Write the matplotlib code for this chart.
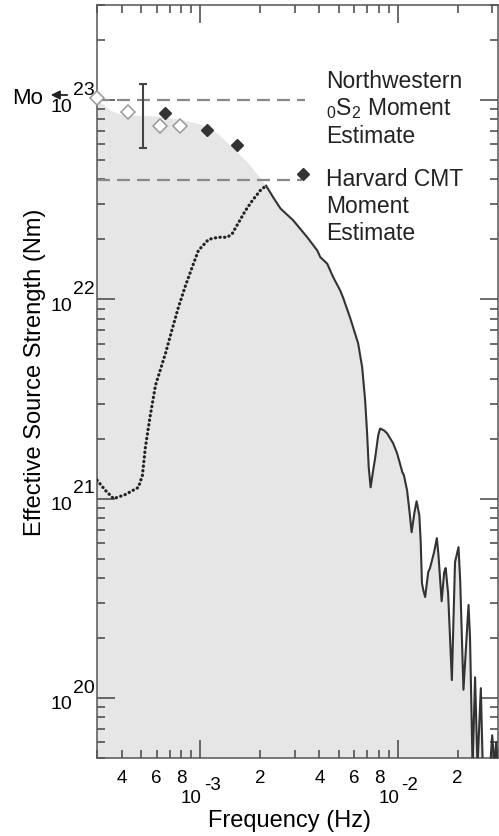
import numpy as np
import matplotlib
matplotlib.use('Agg')
import matplotlib.pyplot as plt
from matplotlib.ticker import LogLocator, NullFormatter

plt.rcParams['font.family'] = ['Liberation Sans', 'DejaVu Sans']
plt.rcParams['mathtext.fontset'] = 'custom'
plt.rcParams['mathtext.rm'] = 'Liberation Sans'

# low-frequency part of the spectrum (dotted)
dotted_f = [3.0e-4, 3.31e-4, 3.64e-4, 4.18e-4, 4.86e-4, 5.09e-4, 5.27e-4, 5.58e-4,
            5.93e-4, 6.66e-4, 7.22e-4, 7.74e-4, 8.40e-4, 9.11e-4, 9.77e-4, 1.10e-3,
            1.23e-3, 1.37e-3, 1.45e-3, 1.56e-3, 1.69e-3, 1.83e-3, 2.01e-3, 2.15e-3]
dotted_m = [1.24e21, 1.10e21, 1.00e21, 1.05e21, 1.14e21, 1.31e21, 1.81e21, 2.62e21,
            3.71e21, 5.36e21, 7.16e21, 9.12e21, 1.17e22, 1.46e22, 1.76e22, 2.00e22,
            2.05e22, 2.05e22, 2.14e22, 2.43e22, 2.79e22, 3.13e22, 3.52e22, 3.72e22]

# high-frequency part of the spectrum (solid)
solid_f = [2.15e-3, 2.34e-3, 2.54e-3, 2.95e-3, 3.47e-3, 3.90e-3, 4.04e-3, 4.38e-3,
           4.70e-3, 5.09e-3, 5.27e-3, 5.73e-3, 6.28e-3, 6.58e-3, 6.81e-3, 6.97e-3,
           7.10e-3, 7.26e-3, 7.48e-3, 7.66e-3, 7.93e-3, 8.11e-3, 8.49e-3, 8.79e-3,
           9.43e-3, 9.88e-3, 1.02e-2, 1.05e-2, 1.07e-2, 1.11e-2, 1.14e-2, 1.17e-2,
           1.21e-2, 1.24e-2, 1.28e-2, 1.30e-2, 1.32e-2, 1.34e-2, 1.37e-2, 1.42e-2,
           1.45e-2, 1.52e-2, 1.57e-2, 1.60e-2, 1.66e-2, 1.71e-2, 1.74e-2, 1.79e-2,
           1.87e-2, 1.94e-2, 2.02e-2, 2.06e-2, 2.14e-2, 2.27e-2, 2.31e-2, 2.38e-2,
           2.45e-2, 2.52e-2, 2.62e-2, 2.68e-2, 2.92e-2, 2.99e-2, 3.08e-2, 3.13e-2, 3.2e-2]
solid_m = [3.72e22, 3.24e22, 2.86e22, 2.49e22, 2.05e22, 1.76e22, 1.63e22, 1.51e22,
           1.29e22, 1.11e22, 1.02e22, 8.04e21, 6.01e21, 4.56e21, 3.12e21, 2.13e21,
           1.44e21, 1.14e21, 1.39e21, 1.61e21, 2.08e21, 2.25e21, 2.20e21, 2.13e21,
           1.90e21, 1.69e21, 1.51e21, 1.36e21, 1.31e21, 1.10e21, 8.75e20, 6.79e20,
           8.55e20, 9.71e20, 8.26e20, 6.19e20, 3.77e20, 3.48e20, 3.21e20, 4.28e20,
           4.49e20, 5.39e20, 6.34e20, 5.20e20, 3.06e20, 4.28e20, 4.49e20, 3.35e20,
           1.23e20, 4.81e20, 5.71e20, 3.91e20, 1.10e20, 2.93e20, 2.02e20, 4.5e19,
           1.27e20, 4.5e19, 1.12e20, 4.5e19, 4.5e19, 6.5e19, 4.5e19, 6.0e19, 4.5e19]

# upper envelope of the shaded region before it meets the spectrum
env_f = [3.0e-4, 3.24e-4, 3.51e-4, 3.94e-4, 4.70e-4, 6.07e-4, 7.92e-4, 1.0e-3,
         1.22e-3, 1.47e-3, 1.75e-3, 1.96e-3]
env_m = [9.94e22, 9.49e22, 8.86e22, 8.45e22, 8.36e22, 8.26e22, 7.98e22, 7.54e22,
         6.79e22, 5.71e22, 4.81e22, 4.19e22]

open_f = [3.0e-4, 4.28e-4, 6.28e-4, 7.92e-4]
open_m = [1.03e23, 8.75e22, 7.45e22, 7.45e22]
solid_d_f = [6.66e-4, 1.08e-3, 1.54e-3, 3.31e-3]
solid_d_m = [8.65e22, 7.11e22, 5.98e22, 4.28e22]

err_f = 5.15e-4
err_lo, err_hi = 5.78e22, 1.20e23

nw_moment, nw_end = 1.0e23, 3.39e-3
cmt_moment, cmt_end = 3.95e22, 3.25e-3

x_minor_pos = [4e-4, 6e-4, 8e-4, 2e-3, 4e-3, 6e-3, 8e-3, 2e-2]
x_minor_txt = ['4', '6', '8', '2', '4', '6', '8', '2']
x_major_pos = [1e-3, 1e-2]
x_major_exp = ['-3', '-2']
y_major_pos = [1e20, 1e21, 1e22, 1e23]
y_major_exp = ['20', '21', '22', '23']

W, H = 499, 836
fig = plt.figure(figsize=(W / 100, H / 100), dpi=100)
ax = fig.add_axes([97 / W, 1 - 758 / H, 401 / W, 753 / H])
ax.set_xscale('log')
ax.set_yscale('log')
ax.set_xlim(3.0e-4, 3.2e-2)
ax.set_ylim(5e19, 3e23)

# shaded area under envelope + spectrum
poly_f = env_f + solid_f
poly_m = env_m + solid_m
ax.fill_between(poly_f, poly_m, 1e18, color='#e6e6e6', lw=0, zorder=0)

ax.plot(dotted_f, dotted_m, color='#222222', lw=2.3, ls=(0, (0.1, 1.35)),
        dash_capstyle='round', zorder=3)
ax.plot(solid_f, solid_m, color='#333333', lw=1.5, zorder=3)

ax.plot([3.0e-4, nw_end], [nw_moment, nw_moment], color='#888888', lw=1.6,
        ls=(0, (5.8, 3.2)), zorder=2)
ax.plot([3.0e-4, cmt_end], [cmt_moment, cmt_moment], color='#888888', lw=1.6,
        ls=(0, (5.8, 3.2)), zorder=2)

ax.errorbar([err_f], [err_lo], yerr=[[0], [err_hi - err_lo]], fmt='none',
            ecolor='#444444', elinewidth=1.5, capsize=3, capthick=1.5, zorder=4)

ax.plot(open_f, open_m, 'D', ms=7.5, mfc='white', mec='#999999', mew=1.1,
        ls='none', clip_on=False, zorder=5)
ax.plot(solid_d_f, solid_d_m, 'D', ms=6.3, mfc='#333333', mec='#333333',
        ls='none', zorder=5)

# axes styling
for s in ax.spines.values():
    s.set_color('#555555')
    s.set_linewidth(1.1)
ax.xaxis.set_minor_locator(LogLocator(base=10, subs=np.arange(2, 10), numticks=20))
ax.yaxis.set_minor_locator(LogLocator(base=10, subs=np.arange(2, 10), numticks=20))
ax.xaxis.set_minor_formatter(NullFormatter())
ax.yaxis.set_minor_formatter(NullFormatter())
ax.tick_params(which='both', direction='in', top=True, right=True, color='#444444',
               labelbottom=False, labelleft=False)
ax.tick_params(which='major', length=13, width=1.1)
ax.tick_params(which='minor', length=6, width=1.1)

fs_tick = 13.5
for f, t in zip(x_minor_pos, x_minor_txt):
    ax.annotate(t, xy=(f, 0), xycoords=('data', 'axes fraction'), xytext=(0, -15),
                textcoords='offset points', ha='center', va='center', fontsize=fs_tick)
for f, e in zip(x_major_pos, x_major_exp):
    ax.annotate('10', xy=(f, 0), xycoords=('data', 'axes fraction'), xytext=(1, -29.5),
                textcoords='offset points', ha='right', va='center', fontsize=fs_tick)
    ax.annotate(e, xy=(f, 0), xycoords=('data', 'axes fraction'), xytext=(2.5, -19.5),
                textcoords='offset points', ha='left', va='center', fontsize=fs_tick)
for m, e in zip(y_major_pos, y_major_exp):
    ax.annotate('10', xy=(0, m), xycoords=('axes fraction', 'data'), xytext=(-17.5, -5),
                textcoords='offset points', ha='right', va='center', fontsize=14)
    ax.annotate(e, xy=(0, m), xycoords=('axes fraction', 'data'), xytext=(-17.5, 7),
                textcoords='offset points', ha='left', va='center', fontsize=14)

fs_lab = 17
fig.text(290 / W, 1 - 827 / H, 'Frequency (Hz)', ha='center', va='baseline', fontsize=fs_lab)
fig.text(35 / W, 1 - 372 / H, 'Effective Source Strength (Nm)', rotation=90,
         ha='center', va='center', fontsize=fs_lab)

# Mo marker on the left
fig.text(12 / W, 1 - 98 / H, 'Mo', ha='left', va='center', fontsize=16)
ax.annotate('', xy=(48 / W, 1 - 95 / H), xycoords='figure fraction',
            xytext=(70 / W, 1 - 95 / H), textcoords='figure fraction',
            arrowprops=dict(arrowstyle='-|>', color='#222222', lw=1.3, mutation_scale=13))

# right-hand annotations
right_lines = ['Northwestern', r'$\mathrm{_0S_2}$ Moment', 'Estimate',
               'Harvard CMT', 'Moment', 'Estimate']
right_base = [88, 115, 143, 186, 213, 240]
for t, yb in zip(right_lines, right_base):
    fig.text(326 / W, 1 - yb / H, t, ha='left', va='baseline', fontsize=16.5, color='#222222')

fig.savefig('out.png', dpi=100)
